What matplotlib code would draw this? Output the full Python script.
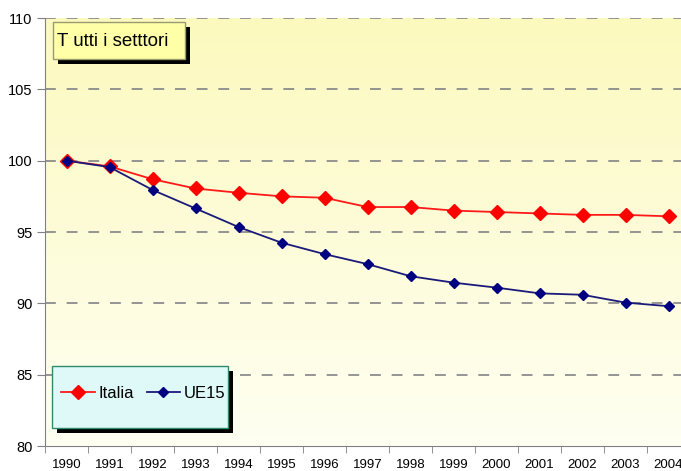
import numpy as np
import matplotlib
matplotlib.use("Agg")
import matplotlib.pyplot as plt
from matplotlib.patches import Rectangle

years = ["1990", "1991", "1992", "1993", "1994", "1995", "1996", "1997",
         "1998", "1999", "2000", "2001", "2002", "2003", "2004"]
italia = [100.0, 99.6, 98.7, 98.05, 97.75, 97.5, 97.4, 96.75,
          96.75, 96.5, 96.4, 96.3, 96.2, 96.2, 96.1]
ue15 = [100.0, 99.55, 97.95, 96.65, 95.35, 94.25, 93.45, 92.75,
        91.9, 91.45, 91.1, 90.7, 90.6, 90.05, 89.8]
y_ticks = [80, 85, 90, 95, 100, 105, 110]

plt.rcParams['font.family'] = ['Liberation Sans', 'DejaVu Sans']

W, H = 681, 471
fig = plt.figure(figsize=(W / 100, H / 100), dpi=100)
# axes spill past the right edge like the original screenshot
ax = fig.add_axes([45 / W, 1 - 446 / H, 645 / W, 428 / H])

x = np.arange(len(years))
ax.set_xlim(-0.5, len(years) - 0.5)
ax.set_ylim(80, 110)

# yellow gradient background
grad = np.linspace(0, 1, 256).reshape(-1, 1)
top = np.array([252, 249, 190]) / 255
bot = np.array([255, 255, 242]) / 255
img = top * grad + bot * (1 - grad)
ax.imshow(img[:, None, :].repeat(2, axis=1), extent=[-0.5, len(years) - 0.5, 80, 110],
          aspect='auto', origin='lower', zorder=0)

for v in y_ticks[1:]:
    ax.axhline(v, color='#8c8c8c', lw=1.3, ls=(0, (6, 6)), zorder=1)

ax.plot(x, italia, color='#ff1a1a', lw=1.3, marker='D', ms=7.5,
        mfc='#ff0000', mec='#ff0000', label='Italia', zorder=3)
ax.plot(x, ue15, color='#1a1a7a', lw=1.3, marker='D', ms=5.5,
        mfc='#000080', mec='#000080', label='UE15', zorder=4)

ax.set_yticks(y_ticks)
ax.set_xticks(x)
ax.set_xticklabels(years)
ax.set_xticks(np.arange(-0.5, len(years), 1), minor=True)
ax.tick_params(axis='x', which='major', length=0, pad=9, labelsize=9.5)
ax.tick_params(axis='x', which='minor', length=5, color='#808080', direction='out')
ax.tick_params(axis='y', length=6, color='#808080', labelsize=10.5, pad=3)
for s in ['top', 'right']:
    ax.spines[s].set_visible(False)
for s in ['left', 'bottom']:
    ax.spines[s].set_color('#808080')


def shadow_box(x0, y0, w, h, face, edge):
    # box given in pixels from the top-left corner, with a black drop shadow
    ax.add_patch(Rectangle(((x0 + 5) / W, 1 - (y0 + h + 5) / H), w / W, h / H,
                           transform=fig.transFigure, facecolor='black',
                           edgecolor='none', zorder=5, clip_on=False))
    ax.add_patch(Rectangle((x0 / W, 1 - (y0 + h) / H), w / W, h / H,
                           transform=fig.transFigure, facecolor=face,
                           edgecolor=edge, lw=1, zorder=6, clip_on=False))


shadow_box(53, 22, 132, 37, '#ffffa8', '#9a9a70')
ax.text(57 / W, 1 - 42 / H, 'T utti i setttori', fontsize=13.5,
        va='center', ha='left', zorder=7, transform=fig.transFigure)

shadow_box(52, 366, 176, 62, '#dff8f8', '#2e8b6e')
leg = ax.legend(loc='center left', bbox_to_anchor=(53 / W, 1 - 393 / H),
                bbox_transform=fig.transFigure, ncol=2, frameon=False,
                fontsize=12, handlelength=2.0, handletextpad=0.2, columnspacing=0.8,
                borderpad=0.2, borderaxespad=0.3)
leg.set_zorder(8)

fig.savefig('out.png', dpi=100, facecolor='white')
